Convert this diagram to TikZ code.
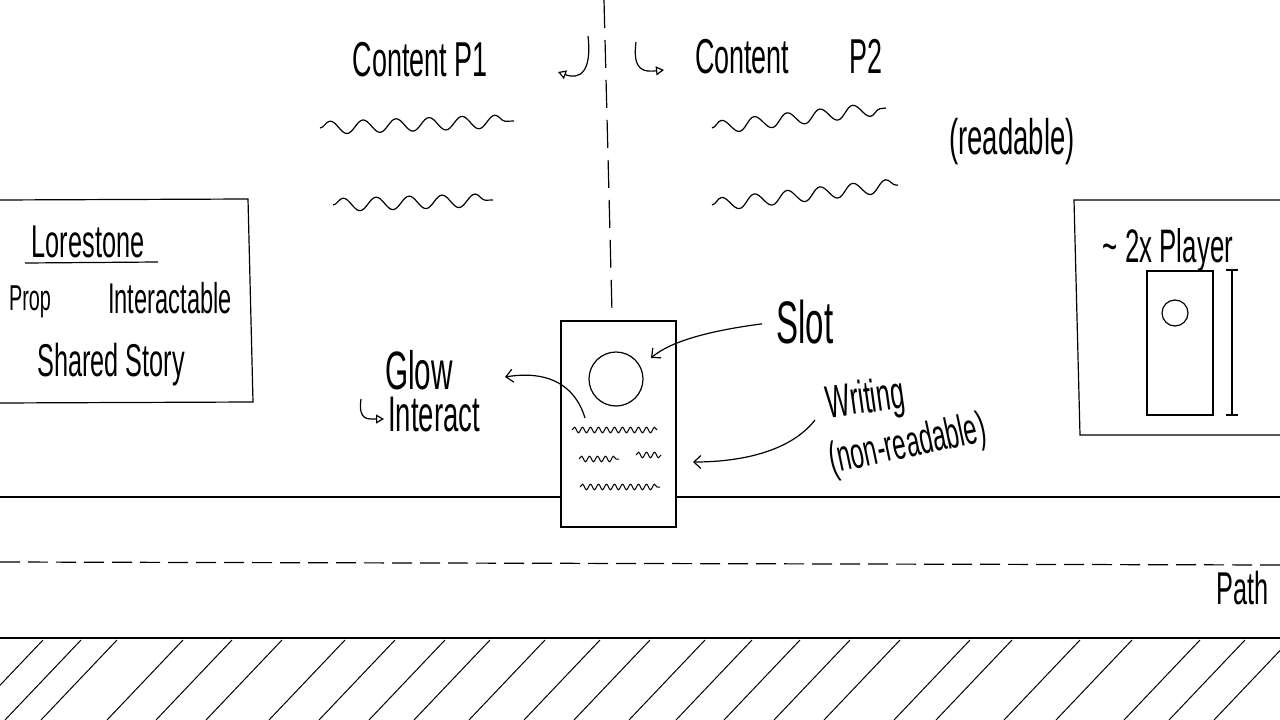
\documentclass[tikz,border=0pt]{standalone}
\usepackage{graphicx}
\usepackage{fontspec}
\setmainfont{Liberation Sans}
\usetikzlibrary{decorations.pathmorphing,arrows.meta}
\newcommand\hand[2]{\scalebox{0.55}[1]{\fontsize{#1pt}{#1pt}\selectfont #2}}
\begin{document}
\begin{tikzpicture}[x=1pt,y=-1pt,line width=1.2pt,
  lbl/.style={inner sep=0pt},
  barb/.style={-{Straight Barb[length=7pt,width=13pt]}},
  hook/.style={line width=1.2pt,-{Triangle[open,length=8pt,width=9pt]}},
  wave/.style={decorate,decoration={snake,amplitude=6.5pt,segment length=33pt}},
  scrib/.style={line width=1pt,decorate,decoration={snake,amplitude=2.8pt,segment length=8pt}}]
\useasboundingbox (0,0) rectangle (1280,720);

% divider
\coordinate (dtop) at (604,0);
\coordinate (dbot) at (612,312);
\draw[dash pattern=on 28pt off 12pt] (dtop) -- (dbot);

% header texts
\node[lbl] (p1) at (420,60) {\hand{49}{Content P1}};
\node[lbl] (p2) at (789,57) {\hand{49}{Content\hspace{110pt}P2}};
\coordinate (h1a) at (588,36);
\coordinate (h1b) at (558,72);
\draw[hook] (h1a) .. controls (592,72) and (580,80) .. (h1b);
\coordinate (h2a) at (636,42);
\coordinate (h2b) at (664,70);
\draw[hook] (h2a) .. controls (632,72) and (645,72) .. (h2b);
\node[lbl] (readable) at (1012,142) {\hand{50}{(readable)}};

% waves
\coordinate (w1a) at (320,128); \coordinate (w1b) at (514,121);
\coordinate (w2a) at (333,205); \coordinate (w2b) at (493,200);
\coordinate (w3a) at (712,128); \coordinate (w3b) at (886,108);
\coordinate (w4a) at (712,205); \coordinate (w4b) at (898,185);
\draw[wave] (w1a) -- (w1b);
\draw[wave] (w2a) -- (w2b);
\draw[wave] (w3a) -- (w3b);
\draw[wave] (w4a) -- (w4b);

% Lorestone legend box
\draw (-3,200) -- (248,199) -- (253,402) -- (-3,403);
\node[lbl] (lore) at (88,242) {\hand{46}{Lorestone}};
\coordinate (ula) at (25,263); \coordinate (ulb) at (158,262);
\draw (ula) -- (ulb);
\node[lbl] (prop) at (30,302) {\hand{36}{Prop}};
\node[lbl] (inter) at (170,298) {\hand{43}{Interactable}};
\node[lbl] (shared) at (111,365) {\hand{46}{Shared Story}};

% ground line
\coordinate (gla) at (0,497); \coordinate (glb) at (1280,497);
\draw (gla) -- (glb);

% stone
\node[draw,fill=white,minimum width=115pt,minimum height=206pt,inner sep=0pt] (stone) at (618.5,424) {};
\node[draw,circle,minimum size=54pt,inner sep=0pt] (slot) at (616,379) {};
\draw[scrib] (572,430) -- (657,430);
\draw[scrib] (579,459) -- (619,459);
\draw[scrib] (636,455) -- (661,455);
\draw[scrib] (580,487) -- (660,487);

% Slot
\node[lbl] (slotlbl) at (805,322) {\hand{60}{Slot}};
\coordinate (slottip) at (651,358);
\draw[barb,shorten <=14pt] (slotlbl.west) .. controls (715,330) and (672,340) .. (slottip);

% Glow
\node[lbl] (glow) at (419,370) {\hand{54}{Glow}};
\node[lbl] (interact) at (434,415) {\hand{50}{Interact}};
\coordinate (iha) at (361,399); \coordinate (ihb) at (384,419);
\draw[hook] (iha) .. controls (358,421) and (368,419) .. (ihb);
\coordinate (glowfrom) at (585,418);
\coordinate (glowto) at (505,377);
\draw[barb] (glowfrom) .. controls (575,385) and (548,370) .. (glowto);

% Writing
\node[lbl,rotate=8] (writing) at (866,401) {\hand{46}{Writing}};
\node[lbl,rotate=12] (nonread) at (908,446) {\hand{44}{(non-readable)}};
\coordinate (wrfrom) at (815,420);
\coordinate (wrto) at (693,462);
\draw[barb] (wrfrom) .. controls (790,452) and (740,462) .. (wrto);

% scale reference box
\draw (1290,200) -- (1074,200) -- (1080,435) -- (1290,435);
\node[lbl] (player) at (1168,250) {\hand{47}{\textasciitilde{} 2x Player}};
\node[draw,minimum width=66pt,minimum height=144pt,inner sep=0pt] (mini) at (1180,343) {};
\node[draw,circle,minimum size=26pt,inner sep=0pt] (minislot) at (1175,313) {};
\coordinate (da) at (1232,270); \coordinate (db) at (1232,415);
\draw (da) -- (db);
\draw ([xshift=-6pt]da) -- ([xshift=6pt]da);
\draw ([xshift=-6pt]db) -- ([xshift=6pt]db);

% path
\coordinate (pa) at (0,562); \coordinate (pb) at (1280,565);
\draw[dash pattern=on 20pt off 8pt] (pa) -- (pb);
\node[lbl] (pathlbl) at (1243,588) {\hand{46}{Path}};

% edge with hatching
\coordinate (ea) at (0,638); \coordinate (eb) at (1280,638);
\draw (ea) -- (eb);
\foreach \x in {43,81,117,183,232,282,345,395,445,490,545,600,650,705,752,800,850,900,970,1012,1080,1132,1200,1245,1290}
  \draw[line width=1pt] (\x,640) -- (\x-76,720);
\end{tikzpicture}
\end{document}
